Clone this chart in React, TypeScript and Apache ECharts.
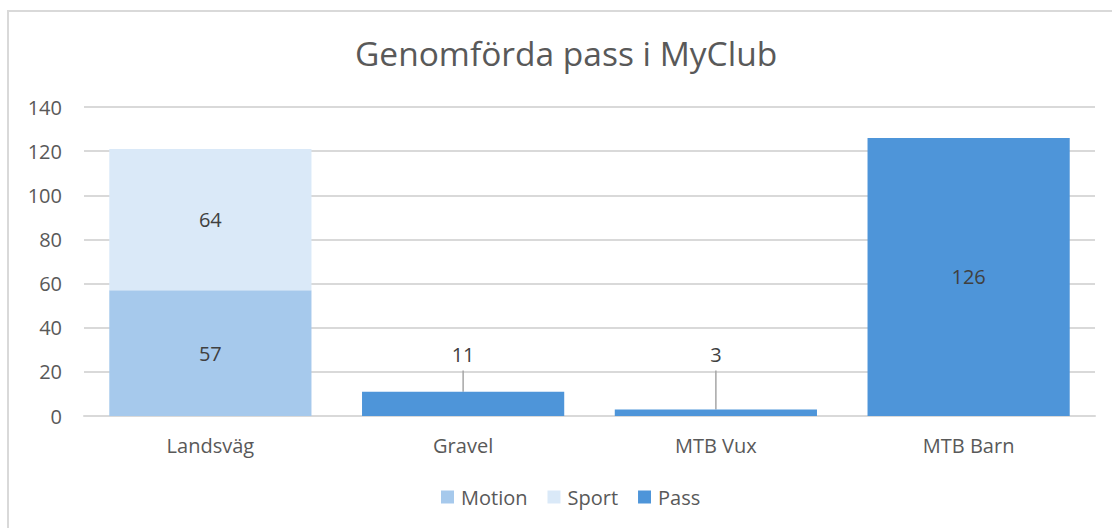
import React, { useEffect, useRef } from "react";
import * as echarts from "echarts";

const categories = ["Landsväg", "Gravel", "MTB Vux", "MTB Barn"];
const motion: (number | null)[] = [57, null, null, null];
const sport: (number | null)[] = [64, null, null, null];
const pass: (number | null)[] = [null, 11, 3, 126];
const titleText = "Genomförda pass i MyClub";

const FONT = "'Open Sans', 'Noto Sans', sans-serif";
const TXT = "#595959";

export default function App() {
  const ref = useRef<HTMLDivElement>(null);
  useEffect(() => {
    if (!ref.current) return;
    const chart = echarts.init(ref.current, undefined, { renderer: "svg" });
    const lbl = { show: true, color: "#404040", fontSize: 20, fontFamily: FONT };
    chart.setOption({
      animation: false,
      backgroundColor: "#fff",
      textStyle: { fontFamily: FONT },
      title: {
        text: titleText,
        left: 350,
        top: 31,
        textStyle: { fontSize: 33.5, fontWeight: "normal", color: TXT, fontFamily: FONT },
      },
      graphic: [
        {
          type: "rect",
          shape: { x: 8, y: 11, width: 1300, height: 700 },
          style: { fill: "none", stroke: "#d9d9d9", lineWidth: 2 },
          silent: true,
        },
      ],
      legend: {
        top: 482,
        left: 436,
        itemWidth: 13,
        itemHeight: 13,
        itemGap: 20,
        icon: "rect",
        textStyle: { fontSize: 20, color: TXT, fontFamily: FONT, padding: [0, 0, 0, 2] },
        data: ["Motion", "Sport", "Pass"],
      },
      grid: { left: 84, right: 17, top: 107, bottom: 112, containLabel: false },
      xAxis: {
        type: "category",
        data: categories,
        axisLine: { lineStyle: { color: "#d9d9d9", width: 2 } },
        axisTick: { show: false },
        axisLabel: { color: TXT, fontSize: 20, margin: 19, fontFamily: FONT },
      },
      yAxis: {
        type: "value",
        min: 0,
        max: 140,
        interval: 20,
        axisLine: { show: false },
        axisTick: { show: false },
        axisLabel: { color: TXT, fontSize: 20, margin: 22, fontFamily: FONT },
        splitLine: { lineStyle: { color: "#d9d9d9", width: 2 } },
      },
      series: [
        {
          name: "Motion",
          type: "bar",
          stack: "a",
          data: motion,
          barWidth: "80%",
          itemStyle: { color: "#a6c9ec" },
          label: { ...lbl, position: "inside" },
        },
        {
          name: "Sport",
          type: "bar",
          stack: "a",
          data: sport,
          itemStyle: { color: "#dae9f8" },
          label: { ...lbl, position: "inside" },
        },
        {
          name: "Pass",
          type: "bar",
          stack: "a",
          data: pass.map((v, i) =>
            i === 1 || i === 2
              ? {
                  value: v,
                  label: {
                    formatter: "{c}\n{gap|}",
                    rich: { gap: { height: 12, fontSize: 1 } },
                  },
                }
              : v
          ),
          itemStyle: { color: "#4e95d9" },
          label: { ...lbl, position: "inside" },
          labelLine: { show: true, lineStyle: { color: "#a6a6a6", width: 1.5 } },
          labelLayout: (p: any) => {
            if (p.dataIndex === 1 || p.dataIndex === 2) {
              return { y: 360, verticalAlign: "middle", align: "center" };
            }
            return {};
          },
        },
      ],
    });
    return () => chart.dispose();
  }, []);
  return (
    <div
      ref={ref}
      style={{ position: "fixed", left: 0, top: 0, width: 1112, height: 528 }}
    />
  );
}
